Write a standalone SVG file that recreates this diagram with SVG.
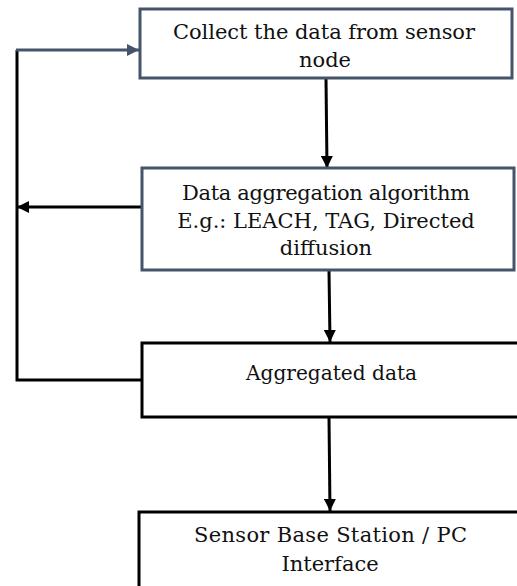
<svg xmlns="http://www.w3.org/2000/svg" width="517" height="586" viewBox="0 0 517 586">
  <style>
    .box { fill: #ffffff; stroke-width: 3; }
    .slate { stroke: #44546a; }
    .dark { stroke: #000000; }
    .label { font-family: "DejaVu Serif", "Liberation Serif", serif; font-size: 21px; fill: #111111; text-anchor: middle; }
    .wire { fill: none; stroke: #000000; stroke-width: 3; }
    .wire-slate { fill: none; stroke: #44546a; stroke-width: 3; }
  </style>
  <defs>
    <marker id="head" viewBox="0 0 10 10" refX="10" refY="5" markerWidth="4" markerHeight="4" markerUnits="strokeWidth" orient="auto">
      <path d="M0,0 L10,5 L0,10 Z" fill="#000000"/>
    </marker>
    <marker id="head-slate" viewBox="0 0 10 10" refX="10" refY="5" markerWidth="4" markerHeight="4" markerUnits="strokeWidth" orient="auto">
      <path d="M0,0 L10,5 L0,10 Z" fill="#44546a"/>
    </marker>
  </defs>
  <rect width="517" height="586" fill="#ffffff"/>

  <g id="connectors">
    <!-- downward flow -->
    <line class="wire" x1="326" y1="79" x2="327" y2="168" marker-end="url(#head)"/>
    <line class="wire" x1="329" y1="271" x2="330" y2="342" marker-end="url(#head)"/>
    <line class="wire" x1="329" y1="418" x2="330" y2="511" marker-end="url(#head)"/>
    <!-- feedback loop on the left -->
    <line class="wire" x1="141" y1="207" x2="17" y2="207" marker-end="url(#head)"/>
    <polyline class="wire" points="141,380 17,380 17,50"/>
    <line class="wire-slate" x1="16" y1="50" x2="139" y2="50" marker-end="url(#head-slate)"/>
  </g>

  <g id="collect">
    <rect class="box slate" x="140" y="9" width="372" height="69"/>
    <text class="label" x="324" y="38.5" textLength="302" lengthAdjust="spacing">Collect the data from sensor</text>
    <text class="label" x="325" y="66.5">node</text>
  </g>

  <g id="algorithm">
    <rect class="box slate" x="142" y="168" width="372" height="102"/>
    <text class="label" x="326" y="200" textLength="288" lengthAdjust="spacing">Data aggregation algorithm</text>
    <text class="label" x="326" y="227.5">E.g.: LEACH, TAG, Directed</text>
    <text class="label" x="326" y="254.5">diffusion</text>
  </g>

  <g id="aggregated">
    <rect class="box dark" x="142" y="343" width="390" height="74"/>
    <text class="label" x="331.5" y="380" textLength="171" lengthAdjust="spacingAndGlyphs">Aggregated data</text>
  </g>

  <g id="base-station">
    <rect class="box dark" x="139" y="512" width="393" height="90"/>
    <text class="label" x="330.5" y="542" textLength="273" lengthAdjust="spacing">Sensor Base Station / PC</text>
    <text class="label" x="330" y="571">Interface</text>
  </g>
</svg>
